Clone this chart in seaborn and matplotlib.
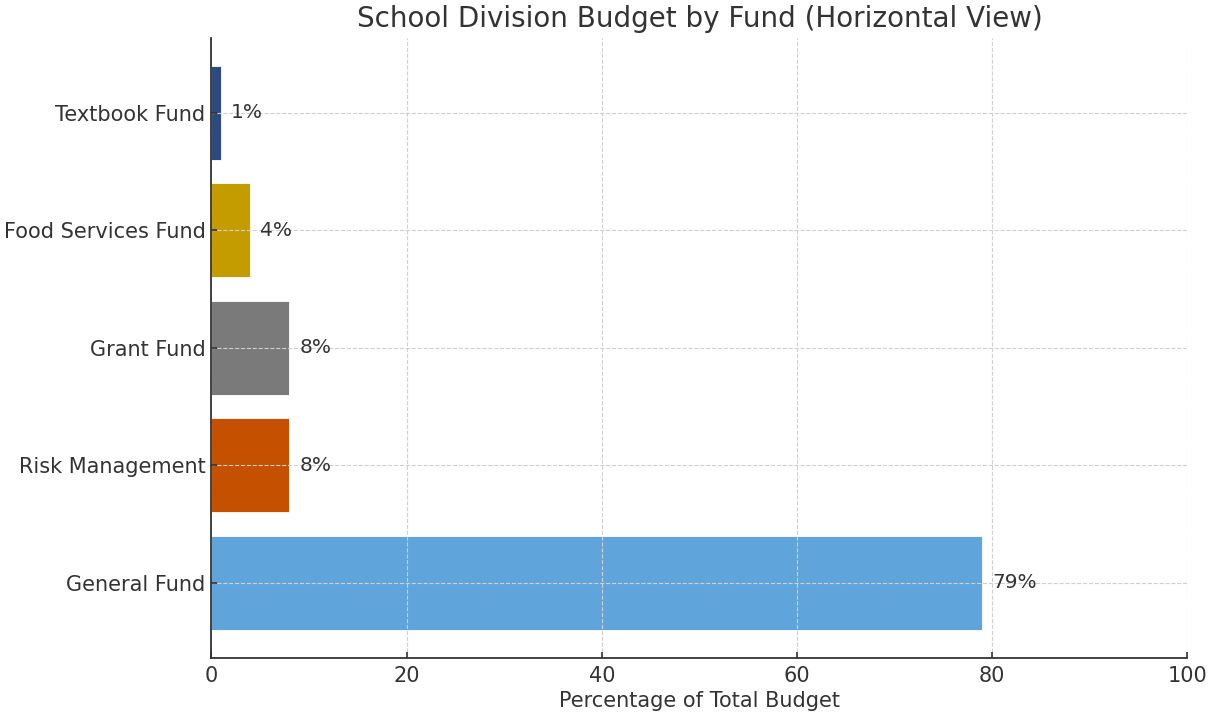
import matplotlib
matplotlib.use("Agg")
import matplotlib.pyplot as plt
import seaborn as sns
import pandas as pd

# Budget share per fund (percent of total)
funds = ["Textbook Fund", "Food Services Fund", "Grant Fund", "Risk Management", "General Fund"]
shares = [1, 4, 8, 8, 79]
colors = ["#2c4a7e", "#c49c00", "#7a7a7a", "#c45000", "#5fa5db"]

df = pd.DataFrame({"fund": funds, "share": shares})

sns.set_theme(style="white")
plt.rcParams["font.family"] = ["DejaVu Sans"]
plt.rcParams["text.color"] = "#333333"
plt.rcParams["axes.labelcolor"] = "#333333"
plt.rcParams["xtick.color"] = "#333333"
plt.rcParams["ytick.color"] = "#333333"

fig, ax = plt.subplots(figsize=(12.08, 7.12), dpi=100)
fig.subplots_adjust(left=0.175, right=0.983, top=0.947, bottom=0.076)

sns.barplot(data=df, x="share", y="fund", hue="fund", palette=colors,
            order=funds[::-1], hue_order=funds, orient="h", width=0.8,
            legend=False, ax=ax, edgecolor="white", linewidth=0.6, saturation=1)
ax.invert_yaxis()

for i, (f, v) in enumerate(zip(funds[::-1], shares[::-1])):
    ax.text(v + 1, i, f"{v}%", va="center", ha="left", fontsize=14.5, color="#333333")

ax.set_xlim(0, 100)
ax.set_ylim(-0.64, 4.64)
ax.set_xticks([0, 20, 40, 60, 80, 100])
ax.grid(True, linestyle="--", color="#d0d0d0", linewidth=0.8)
ax.set_axisbelow(False)
ax.set_xlabel("Percentage of Total Budget", fontsize=15, labelpad=4)
ax.set_ylabel("")
ax.set_title("School Division Budget by Fund (Horizontal View)", fontsize=20, color="#333333", pad=8)
ax.tick_params(axis="both", labelsize=15, length=4, width=1.2, direction="in", bottom=True, left=True)
ax.tick_params(axis="y", pad=4.2)
ax.tick_params(axis="x", pad=5.5)
for side in ["top", "right"]:
    ax.spines[side].set_visible(False)
for side in ["left", "bottom"]:
    ax.spines[side].set_color("#333333")
    ax.spines[side].set_linewidth(1.3)
    ax.spines[side].set_zorder(5)

fig.savefig("out.png", dpi=100)
